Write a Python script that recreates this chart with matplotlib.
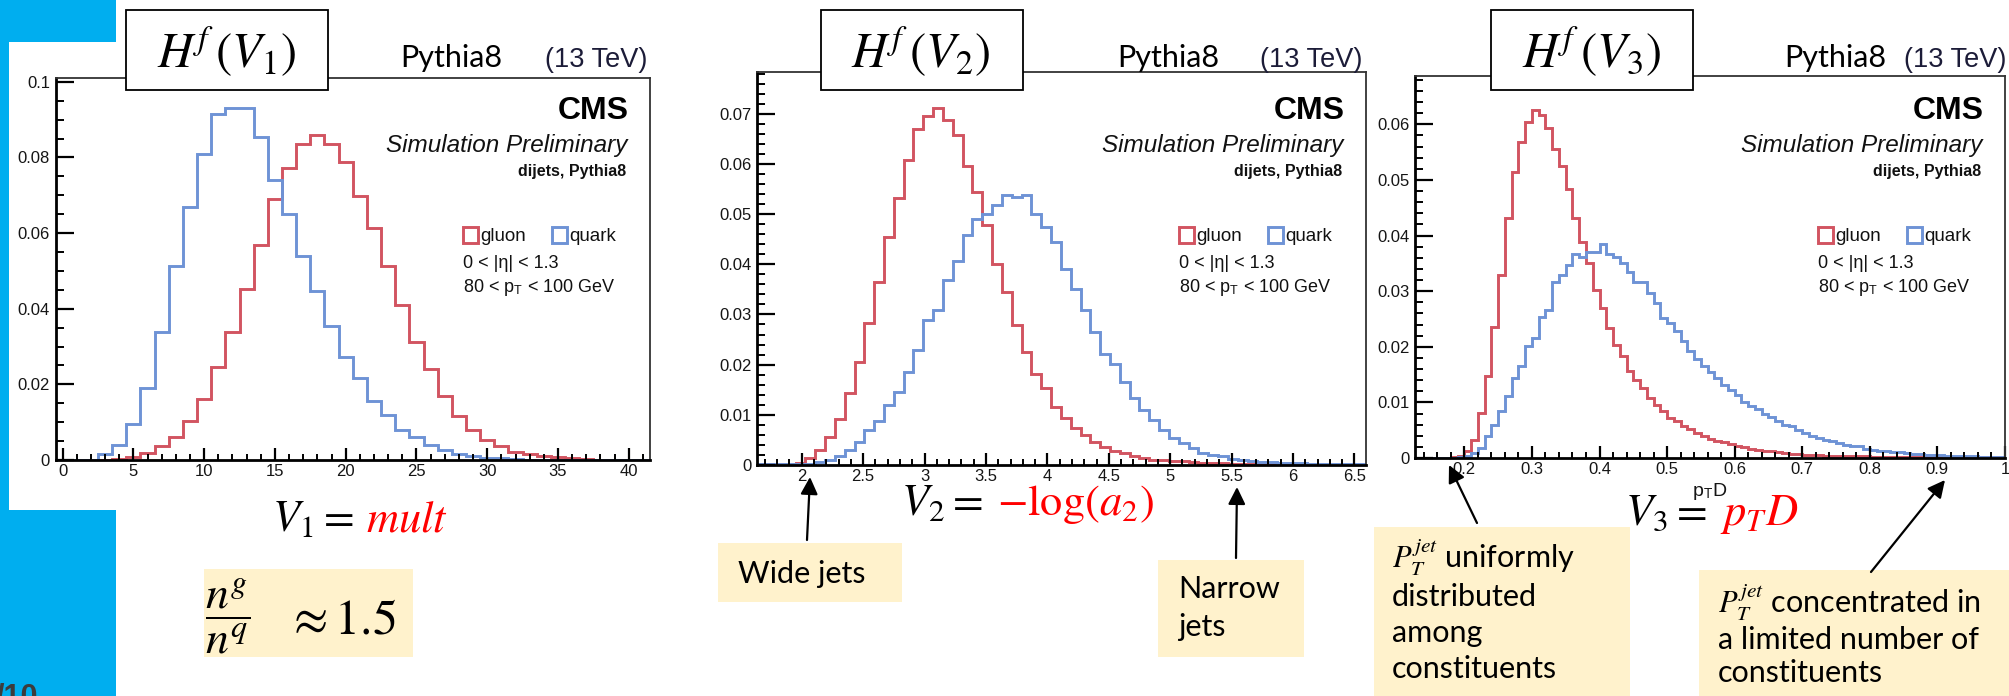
import numpy as np
import matplotlib
matplotlib.use("Agg")
import matplotlib.pyplot as plt
from matplotlib.patches import Rectangle
from matplotlib.ticker import MultipleLocator

plt.rcParams["font.family"] = ["Liberation Sans", "DejaVu Sans"]
plt.rcParams["mathtext.fontset"] = "stix"

W, H = 2009, 696
RED = "#D25461"
BLUE = "#6E93D6"
SLIDE_BLUE = "#00AEEF"
NOTE_YELLOW = "#FFF2CC"

# ── V1: constituent multiplicity (unit bins, first edge at -0.5) ─────────────
mult_lo, mult_width = -0.5, 1.0
gluon_mult = [0, 0, 0, 0, 0.0002, 0.0007, 0.0018, 0.0036, 0.0062, 0.0102,
              0.0162, 0.0246, 0.0338, 0.0453, 0.0569, 0.0689, 0.0772, 0.0836, 0.086, 0.0836,
              0.0788, 0.0698, 0.0613, 0.0513, 0.041, 0.0311, 0.024, 0.0169, 0.0116, 0.008,
              0.0053, 0.0036, 0.0022, 0.0015, 0.001, 0.0007, 0.0004, 0.0002, 0.0001, 0,
              0, 0]
quark_mult = [0, 0, 0, 0.0016, 0.004, 0.0096, 0.019, 0.0338, 0.0513, 0.067,
              0.081, 0.0916, 0.093, 0.093, 0.0853, 0.074, 0.065, 0.054, 0.0446, 0.0353,
              0.0273, 0.0216, 0.0156, 0.012, 0.008, 0.0062, 0.004, 0.0027, 0.0016, 0.001,
              0.0006, 0.0004, 0.0002, 0.0001, 0, 0, 0, 0, 0, 0,
              0, 0]
mult_xticks = [0, 5, 10, 15, 20, 25, 30, 35, 40]
mult_xlabels = ["0", "5", "10", "15", "20", "25", "30", "35", "40"]
mult_yticks = [0, 0.02, 0.04, 0.06, 0.08, 0.1]
mult_ylabels = ["0", "0.02", "0.04", "0.06", "0.08", "0.1"]

# ── V2: -log(axis2), 0.08 wide bins ─────────────────────────────────────────
a2_lo, a2_width = 1.63, 0.08
gluon_a2 = [0.0001, 0.0001, 0.0002, 0.0002, 0.0004,
            0.0013, 0.003, 0.0056, 0.0091, 0.0143, 0.0206, 0.0282, 0.0365, 0.0455, 0.0531,
            0.0607, 0.067, 0.0695, 0.0712, 0.0688, 0.0657, 0.0595, 0.0544, 0.0478, 0.0401,
            0.0345, 0.0279, 0.0226, 0.0182, 0.0153, 0.0116, 0.0093, 0.0073, 0.006, 0.0046,
            0.0036, 0.0028, 0.0023, 0.0018, 0.0013, 0.001, 0.001, 0.0007, 0.0007, 0.0005,
            0.0004, 0.0004, 0.0003, 0.0002, 0.0002, 0.0002, 0.0001, 0.0001, 0.0001, 0.0001,
            0.0001, 0, 0, 0, 0, 0, 0]
quark_a2 = [0.0001, 0.0001, 0.0001, 0.0001, 0.0001,
            0.0002, 0.0005, 0.001, 0.0018, 0.003, 0.0046, 0.007, 0.0088, 0.012, 0.0146,
            0.0186, 0.0229, 0.0289, 0.0309, 0.0368, 0.0407, 0.0458, 0.0491, 0.0501, 0.0518,
            0.0537, 0.0533, 0.0537, 0.0501, 0.0474, 0.0444, 0.0391, 0.0351, 0.0308, 0.0265,
            0.0222, 0.0202, 0.0166, 0.0133, 0.0109, 0.0089, 0.007, 0.0053, 0.0043, 0.0033,
            0.0023, 0.002, 0.0017, 0.0011, 0.001, 0.0008, 0.0006, 0.0005, 0.0004, 0.0003,
            0.0003, 0.0002, 0.0002, 0.0002, 0.0001, 0.0001, 0.0001]
a2_xticks = [2, 2.5, 3, 3.5, 4, 4.5, 5, 5.5, 6, 6.5]
a2_xlabels = ["2", "2.5", "3", "3.5", "4", "4.5", "5", "5.5", "6", "6.5"]
a2_yticks = [0, 0.01, 0.02, 0.03, 0.04, 0.05, 0.06, 0.07]
a2_ylabels = ["0", "0.01", "0.02", "0.03", "0.04", "0.05", "0.06", "0.07"]

# ── V3: pTD, 0.01 wide bins from 0.13 ───────────────────────────────────────
ptd_lo, ptd_width = 0.13, 0.01
gluon_ptd = [0, 0, 0, 0, 0, 0.0001, 0.0003,
             0.0012, 0.0033, 0.0081, 0.0147, 0.0235, 0.0329, 0.0431, 0.0515, 0.0569, 0.0605,
             0.0625, 0.0617, 0.0593, 0.0555, 0.0525, 0.0483, 0.0431, 0.0389, 0.035, 0.0302,
             0.0269, 0.0233, 0.0204, 0.0183, 0.0156, 0.0141, 0.0126, 0.0108, 0.0096, 0.0084,
             0.0072, 0.0066, 0.0058, 0.0052, 0.0045, 0.0039, 0.0035, 0.0031, 0.0028, 0.0025,
             0.0022, 0.0019, 0.0017, 0.0015, 0.0013, 0.0012, 0.001, 0.0009, 0.0008, 0.0007,
             0.0006, 0.0005, 0.0005, 0.0004, 0.0004, 0.0003, 0.0003, 0.0003, 0.0003, 0.0003,
             0.0002, 0.0002, 0.0002, 0.0002, 0.0002, 0.0002, 0.0002, 0.0002, 0.0002, 0.0002,
             0.0001, 0.0001, 0.0001, 0.0001, 0.0001, 0.0001, 0.0001, 0.0001, 0.0001, 0.0001]
quark_ptd = [0, 0, 0, 0, 0, 0, 0.0001,
             0.0003, 0.0009, 0.0018, 0.0039, 0.006, 0.0084, 0.0111, 0.0144, 0.0165, 0.0201,
             0.0216, 0.0253, 0.0266, 0.0317, 0.0329, 0.0347, 0.0366, 0.0362, 0.037, 0.037,
             0.0385, 0.0366, 0.0362, 0.035, 0.0335, 0.0317, 0.0316, 0.0296, 0.0278, 0.0251,
             0.0243, 0.0228, 0.0211, 0.0192, 0.0178, 0.0165, 0.0155, 0.0143, 0.0131, 0.0122,
             0.0113, 0.0101, 0.0094, 0.0088, 0.0079, 0.0073, 0.0066, 0.006, 0.0057, 0.0051,
             0.0045, 0.0039, 0.0036, 0.0033, 0.003, 0.0027, 0.0024, 0.0021, 0.0021, 0.0017,
             0.0015, 0.0013, 0.0012, 0.0011, 0.001, 0.0009, 0.0008, 0.0007, 0.0006, 0.0006,
             0.0005, 0.0004, 0.0004, 0.0003, 0.0003, 0.0003, 0.0002, 0.0002, 0.0002, 0.0001]
ptd_xticks = [0.2, 0.3, 0.4, 0.5, 0.6, 0.7, 0.8, 0.9, 1.0]
ptd_xlabels = ["0.2", "0.3", "0.4", "0.5", "0.6", "0.7", "0.8", "0.9", "1"]
ptd_yticks = [0, 0.01, 0.02, 0.03, 0.04, 0.05, 0.06]
ptd_ylabels = ["0", "0.01", "0.02", "0.03", "0.04", "0.05", "0.06"]


fig = plt.figure(figsize=(W / 100, H / 100), dpi=100)
fig.patch.set_facecolor("white")


def histo_panel(box, lo, width, gluon, quark, xlim, ylim,
                xticks, xlabels, xminor, yticks, ylabels, yminor):
    """ROOT-style step histogram; box = (left, top, right, bottom) in pixels."""
    l, t, r, b = box
    ax = fig.add_axes([l / W, 1 - b / H, (r - l) / W, (b - t) / H])
    edges = lo + width * np.arange(len(gluon) + 1)
    ax.stairs(gluon, edges, color=RED, lw=2.1)
    ax.stairs(quark, edges, color=BLUE, lw=2.1)
    ax.set_xlim(*xlim)
    ax.set_ylim(*ylim)
    ax.set_xticks(xticks, xlabels)
    ax.set_yticks(yticks, ylabels)
    ax.xaxis.set_minor_locator(MultipleLocator(xminor))
    ax.yaxis.set_minor_locator(MultipleLocator(yminor))
    ax.tick_params(which="both", direction="in", top=False, right=False,
                   color="black", labelcolor="#151515", labelsize=12)
    ax.tick_params(axis="y", which="major", length=13, width=1.6, pad=4)
    ax.tick_params(axis="y", which="minor", length=6, width=1.4)
    ax.tick_params(axis="x", which="major", length=9, width=1.6, pad=3)
    ax.tick_params(axis="x", which="minor", length=4.5, width=1.4)
    for side in ("left", "bottom"):
        ax.spines[side].set_linewidth(2.0)
        ax.spines[side].set_color("black")
    for side in ("top", "right"):
        ax.spines[side].set_linewidth(1.3)
        ax.spines[side].set_color("#333333")
    return ax


boxes = [(55.5, 78, 650, 460), (757, 72, 1366, 465), (1415, 76, 2005, 458)]

histo_panel(boxes[0], mult_lo, mult_width, gluon_mult, quark_mult, (-0.5, 41.5), (0, 0.101),
            mult_xticks, mult_xlabels, 1, mult_yticks, mult_ylabels, 0.005)
histo_panel(boxes[1], a2_lo, a2_width, gluon_a2, quark_a2, (1.636, 6.594), (0, 0.0783),
            a2_xticks, a2_xlabels, 0.1, a2_yticks, a2_ylabels, 0.002)
histo_panel(boxes[2], ptd_lo, ptd_width, gluon_ptd, quark_ptd, (0.127, 1.0), (0, 0.0687),
            ptd_xticks, ptd_xlabels, 0.02, ptd_yticks, ptd_ylabels, 0.002)

# overlay in pixel coordinates for slide decorations and annotations
ov = fig.add_axes([0, 0, 1, 1], zorder=10)
ov.set_xlim(0, W)
ov.set_ylim(H, 0)
ov.axis("off")
ov.patch.set_alpha(0)

# slide frame on the left, page number runs off the bottom
for x, y, w, h in [(0, 0, 116, 42), (0, 42, 9, 468), (0, 510, 116, 186)]:
    ov.add_patch(Rectangle((x, y), w, h, fc=SLIDE_BLUE, ec="none"))
ov.text(-4, 683, "/10", fontsize=22, fontweight="bold", color="#3c3c3c", va="top")

# CMS labels and legend inside each frame
for l, t, r, b in boxes:
    ov.text(r - 21, 119, "CMS", ha="right", va="baseline", fontsize=23, fontweight="bold")
    ov.text(r - 23, 152, "Simulation Preliminary", ha="right", va="baseline",
            fontsize=17.5, style="italic", color="#111111")
    ov.text(r - 24, 176, "dijets, Pythia8", ha="right", va="baseline",
            fontsize=11.5, fontweight="bold", color="#111111")
    sx = r - 187
    ov.add_patch(Rectangle((sx, 227), 15, 16, fill=False, ec=RED, lw=2.1))
    ov.text(sx + 17, 241, "gluon", va="baseline", fontsize=13.5, color="#111111")
    ov.add_patch(Rectangle((sx + 89, 227), 15, 16, fill=False, ec=BLUE, lw=2.1))
    ov.text(sx + 106, 241, "quark", va="baseline", fontsize=13.5, color="#111111")
    ov.text(sx, 268, "0 < |η| < 1.3", va="baseline", fontsize=13, color="#111111")
    ov.text(sx, 292, r"80 < p$_{\mathregular{T}}$ < 100 GeV", va="baseline",
            fontsize=13, color="#111111")

# headers: H^f(V_i) boxes, generator and energy
headers = [(126, 227, r"$H^{f}\,(V_1)$", 400, 545),
           (821, 921, r"$H^{f}\,(V_2)$", 1117, 1260),
           (1491, 1592, r"$H^{f}\,(V_3)$", 1784, 1904)]
for bx, cx, label, px, ex in headers:
    ov.add_patch(Rectangle((bx, 10), 202, 80, fc="white", ec="black", lw=1.3))
    ov.text(cx, 68, label, ha="center", va="baseline", fontsize=35)
    ov.text(px, 67, "Pythia8", va="baseline", fontsize=22, family="Lato")
    ov.text(ex, 67, "(13 TeV)", va="baseline", fontsize=19.5, color="#1c1c38")

# variable definitions under the frames
ov.text(272, 531, r"$V_1 =$", va="baseline", fontsize=32)
ov.text(366, 531, r"$mult$", va="baseline", fontsize=32, color="red")
ov.text(901, 515, r"$V_2 =$", va="baseline", fontsize=32)
ov.text(997, 515, r"$-\log(a_2)$", va="baseline", fontsize=32, color="red")
ov.text(1625, 525, r"$V_3 =$", va="baseline", fontsize=32)
ov.text(1720, 525, r"$p_T D$", va="baseline", fontsize=32, color="red")
ov.text(1692, 496, r"p$_{\mathregular{T}}$D", va="baseline", fontsize=14, color="#151515")

# gluon/quark multiplicity ratio
ov.add_patch(Rectangle((204, 569), 209, 88, fc=NOTE_YELLOW, ec="none"))
ov.text(205, 616, r"$\dfrac{n^g}{n^q}$", va="center", fontsize=33)
ov.text(286, 633, r"$\approx 1.5$", va="baseline", fontsize=36)

# notes with arrows
font_note = dict(family="Lato", fontsize=22, va="baseline")
ov.add_patch(Rectangle((718, 543), 184, 59, fc=NOTE_YELLOW, ec="none"))
ov.text(738, 583, "Wide jets", **font_note)
ov.add_patch(Rectangle((1158, 560), 146, 97, fc=NOTE_YELLOW, ec="none"))
ov.text(1178, 598, "Narrow", **font_note)
ov.text(1178, 636, "jets", **font_note)
ov.add_patch(Rectangle((1374, 527), 256, 169, fc=NOTE_YELLOW, ec="none"))
ov.text(1392, 568, r"$P_T^{jet}$ uniformly", **font_note)
ov.text(1392, 606, "distributed", **font_note)
ov.text(1392, 642, "among", **font_note)
ov.text(1392, 678, "constituents", **font_note)
ov.add_patch(Rectangle((1699, 570), 310, 126, fc=NOTE_YELLOW, ec="none"))
ov.text(1718, 613, r"$P_T^{jet}$ concentrated in", **font_note)
ov.text(1718, 649, "a limited number of", **font_note)
ov.text(1718, 682, "constituents", **font_note)

arrows = [((807, 540), (810, 477)), ((1236, 558), (1237, 487)),
          ((1477, 523), (1449, 465)), ((1871, 572), (1945, 480))]
for tail, tip in arrows:
    ov.annotate("", xy=tip, xytext=tail,
                arrowprops=dict(arrowstyle="-|>", color="black", lw=1.6,
                                mutation_scale=26, shrinkA=0, shrinkB=0))

fig.savefig("out.png", dpi=100)
